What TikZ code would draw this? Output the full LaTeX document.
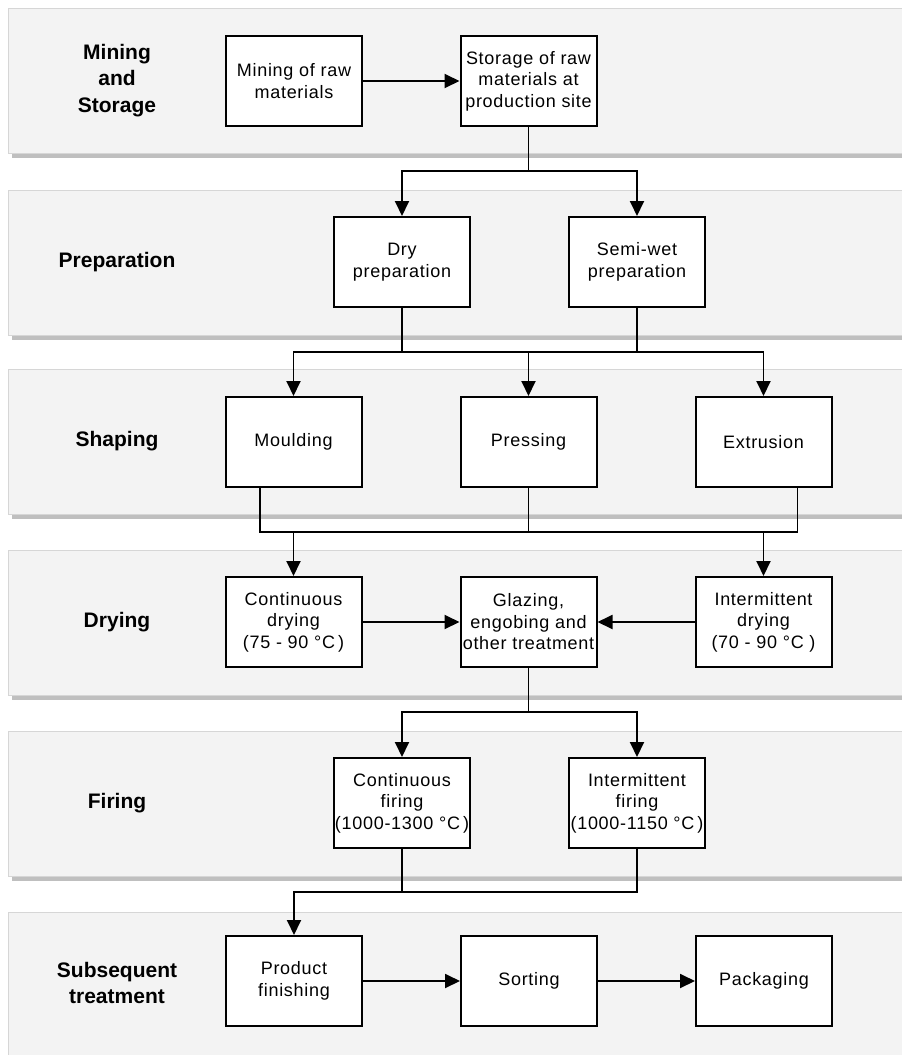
\documentclass[tikz,border=0pt]{standalone}
\usepackage{fontspec}
\setmainfont{Liberation Sans}
\newfontfamily\boxfont[LetterSpace=4.0]{Liberation Sans}
\usetikzlibrary{arrows.meta}
\definecolor{bandfill}{HTML}{F3F3F3}
\definecolor{bandline}{HTML}{D6D6D6}
\definecolor{bandshadow}{HTML}{BFBFBF}
\tikzset{
 procbox/.style={draw=black, line width=2pt, fill=white, minimum width=136pt, minimum height=90pt, inner sep=0pt, align=center, font=\boxfont\fontsize{18}{21.5}\selectfont},
 stagelabel/.style={align=center, font=\fontsize{21}{26.7}\selectfont\bfseries},
 conn/.style={line width=1.9pt},
 arr/.style={conn, -{Triangle[length=15pt,width=14pt]}},
 band/.style={fill=bandfill, draw=bandline, line width=0.8pt},
 bandshade/.style={fill=bandshadow}
}
\begin{document}
\begin{tikzpicture}[x=1pt,y=-1pt]
\useasboundingbox (0,0) rectangle (902,1055);
\clip (0,0) rectangle (902,1055);
% bands
\foreach \c in {80.5,262.5,441.5,622.5,803.5,984.5}{
  \fill[bandshade] (12,\c-67.5) rectangle (915,\c+77.5);
  \filldraw[band] (8,\c-72.5) rectangle (915,\c+72.5);
}
% stage labels
\node[stagelabel] (l1) at (117,80.5) {Mining\\and\\Storage};
\node[stagelabel] (l2) at (117,262.5) {Preparation};
\node[stagelabel] (l3) at (117,441.5) {Shaping};
\node[stagelabel] (l4) at (117,622.5) {Drying};
\node[stagelabel] (l5) at (117,803.5) {Firing};
\node[stagelabel] (l6) at (117,983) {Subsequent\\treatment};
% boxes
\node[procbox] (mining) at (294,81) {Mining of raw\\materials};
\node[procbox] (storage) at (528.5,81) {Storage of raw\\materials at\\production site};
\node[procbox] (dry) at (402,262) {Dry\\preparation};
\node[procbox] (semi) at (637,262) {Semi-wet\\preparation};
\node[procbox] (mould) at (293.5,442) {Moulding};
\node[procbox] (press) at (528.5,442) {Pressing};
\node[procbox] (extr) at (763.5,442) {Extrusion};
\node[procbox] (contdry) at (293.5,622) {Continuous\\drying\\(75 - 90 °C\,)};
\node[procbox] (glaze) at (528.5,622) {Glazing,\\engobing and\\other treatment};
\node[procbox] (intdry) at (763.5,622) {Intermittent\\drying\\(70 - 90 °C )};
\node[procbox] (contfire) at (402,803) {Continuous\\firing\\(1000-1300 °C\,)};
\node[procbox] (intfire) at (637,803) {Intermittent\\firing\\(1000-1150 °C\,)};
\node[procbox] (finish) at (294,981) {Product\\finishing};
\node[procbox] (sort) at (529,981) {Sorting};
\node[procbox] (pack) at (764,981) {Packaging};
% junction coordinates
\coordinate (j1) at (528.5,171);
\coordinate (j2) at (528.5,352);
\coordinate (j3) at (528.5,532);
\coordinate (j4) at (528.5,712);
\coordinate (j5) at (402,892);
% connectors
\draw[arr] (mining) -- (storage);
\draw[conn] (storage.south) -- (j1);
\draw[arr] (j1) -| (dry.north);
\draw[arr] (j1) -| (semi.north);
\draw[conn] (dry.south) |- (j2);
\draw[conn] (semi.south) |- (j2);
\draw[arr] (j2) -| (mould.north);
\draw[arr] (j2) -- (press.north);
\draw[arr] (j2) -| (extr.north);
\draw[conn] ([xshift=-33.5pt]mould.south) |- (j3);
\draw[conn] (press.south) -- (j3);
\draw[conn] ([xshift=34pt]extr.south) |- (j3);
\draw[arr] (j3) -| (contdry.north);
\draw[arr] (j3) -| (intdry.north);
\draw[arr] (contdry) -- (glaze);
\draw[arr] (intdry) -- (glaze);
\draw[conn] (glaze.south) -- (j4);
\draw[arr] (j4) -| (contfire.north);
\draw[arr] (j4) -| (intfire.north);
\draw[conn] (contfire.south) -- (j5);
\draw[conn] (intfire.south) |- (j5);
\draw[arr] (j5) -| (finish.north);
\draw[arr] (finish) -- (sort);
\draw[arr] (sort) -- (pack);
\end{tikzpicture}
\end{document}
